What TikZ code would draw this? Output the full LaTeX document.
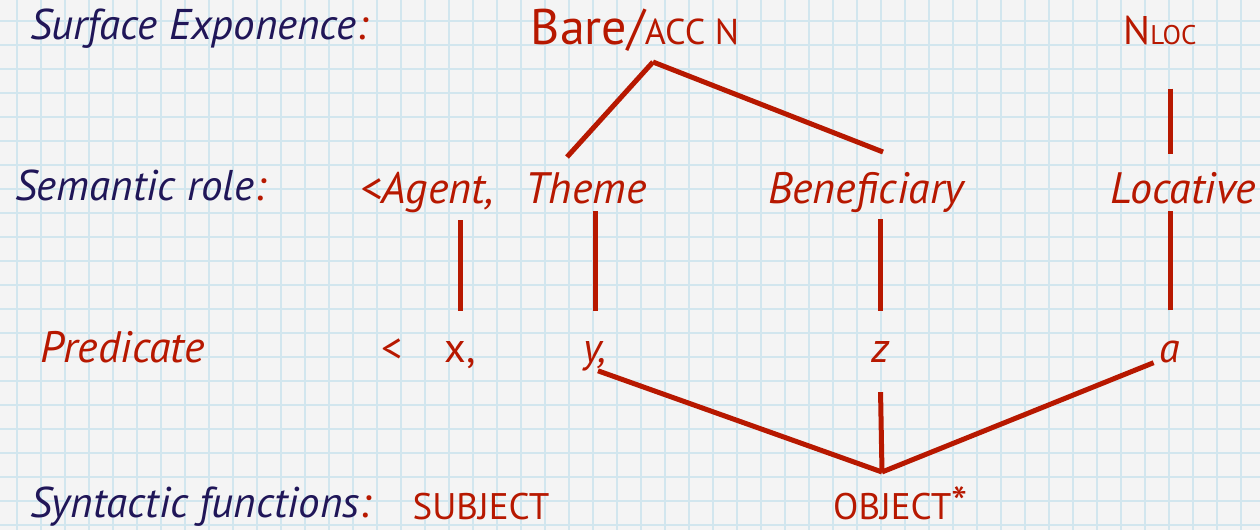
\documentclass[tikz,border=0pt]{standalone}
\usepackage{fontspec}
\setmainfont{PT Sans}
\usetikzlibrary{positioning}
\definecolor{paper}{RGB}{244,244,244}
\definecolor{gridblue}{RGB}{210,230,238}
\definecolor{inkblue}{RGB}{32,22,88}
\definecolor{inkred}{RGB}{183,24,0}

\begin{document}
\begin{tikzpicture}[x=1pt,y=-1pt,
	nodes={inner sep=0pt, anchor=base},
	lvl/.style={text=inkblue, anchor=base west, font=\fontsize{43}{46}\selectfont\itshape},
	role/.style={text=inkred, font=\fontsize{44}{46}\selectfont\itshape},
	arg/.style={text=inkred, font=\fontsize{42}{44}\selectfont},
	func/.style={text=inkred, font=\fontsize{37}{40}\selectfont},
	link/.style={draw=inkred, line width=5pt},
	gridline/.style={draw=gridblue, line width=1.5pt}]
	\useasboundingbox (0,0) rectangle (1260,530);
	\fill[paper] (0,0) rectangle (1260,530);
	\foreach \gx in {17,41,...,1241} \draw[gridline] (\gx,0) -- (\gx,530);
	\foreach \gy in {21,45,...,525} \draw[gridline] (0,\gy) -- (1260,\gy);

	\node[lvl] (surf) at (30,39) {Surface Exponence\textcolor{inkred}{:}};
	\node[lvl] (sem) at (15,200) {Semantic role\textcolor{inkred}{:}};
	\node[role, anchor=base west] (pred) at (40,362) {Predicate};
	\node[lvl] (syn) at (30,517) {Syntactic functions\textcolor{inkred}{:}};

	\node[arg, font=\fontsize{50}{52}\selectfont] (bare) at (635,44) {Bare/{\fontsize{36}{36}\selectfont ACC N}};
	\node[func, font=\fontsize{40}{42}\selectfont] (nloc) at (1160,44) {N{\fontsize{27}{27}\selectfont LOC}};

	\node[role] (agent) at (427,203) {<Agent,};
	\node[role] (theme) at (586,203) {Theme};
	\node[role] (benef) at (866,203) {Beneficiary};
	\node[role] (loc) at (1183,203) {Locative};

	\node[arg] (lt) at (392,362) {<};
	\node[arg] (xarg) at (460,362) {x,};
	\node[arg] (yarg) at (595,362) {\itshape y,};
	\node[arg] (zarg) at (880,362) {\itshape z};
	\node[arg] (aarg) at (1170,362) {\itshape a};

	\node[func] (subj) at (481,519) {SUBJECT};
	\node[func, anchor=base west] (obj) at (833,519) {OBJECT{\fontsize{46}{46}\selectfont *}};

	\coordinate (fork) at (653,62);
	\coordinate (join) at (882,472);

	\draw[link] (fork) -- (567,157);
	\draw[link] (fork) -- (883,152);
	\draw[link, shorten <=44pt, shorten >=18pt] (aarg |- nloc.south) -- (aarg |- loc.north);
	\draw[link, shorten <=30pt, shorten >=7pt] (xarg.north) -- (xarg.north |- agent.south);
	\draw[link, shorten <=30pt, shorten >=7pt] (yarg.north) -- (yarg.north |- theme.south);
	\draw[link, shorten <=30pt, shorten >=7pt] (zarg.north) -- (zarg.north |- benef.south);
	\draw[link, shorten <=30pt, shorten >=7pt] (aarg.north) -- (aarg.north |- loc.south);
	\draw[link] ([xshift=3pt]yarg.south) -- (join);
	\draw[link, shorten <=30pt] (zarg.south) -- (join);
	\draw[link] ([xshift=-6pt]aarg.south west) -- (join);
\end{tikzpicture}
\end{document}
